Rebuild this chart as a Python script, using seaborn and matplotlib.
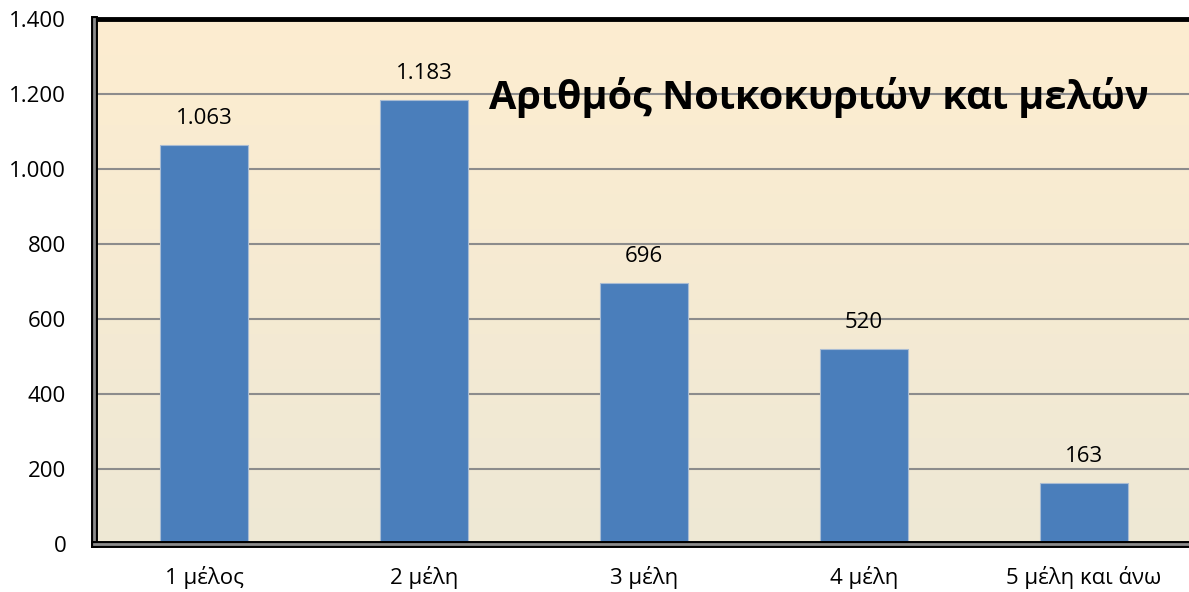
import numpy as np
import pandas as pd
import matplotlib
matplotlib.use("Agg")
import matplotlib.pyplot as plt
import matplotlib.patheffects as pe
from matplotlib.colors import LinearSegmentedColormap
import seaborn as sns

# Households by number of members
categories = ["1 μέλος", "2 μέλη", "3 μέλη", "4 μέλη", "5 μέλη και άνω"]
households = [1063, 1183, 696, 520, 163]
y_ticks = [0, 200, 400, 600, 800, 1000, 1200, 1400]
title = "Αριθμός Νοικοκυριών και μελών"

def thousands(v):
    return f"{v:,.0f}".replace(",", ".")

df = pd.DataFrame({"category": categories, "households": households})

sns.set_theme(style="white")
plt.rcParams["font.family"] = ["Open Sans", "DejaVu Sans"]

fig = plt.figure(figsize=(11.89, 5.92), dpi=100)
ax = fig.add_axes([94 / 1189, 48 / 592, 1100 / 1189, 525 / 592])

# Vertical gradient wall behind the bars
wall = LinearSegmentedColormap.from_list("wall", ["#EEE8D5", "#FDEDD0"])
grad = np.linspace(0, 1, 256).reshape(-1, 1)
ax.imshow(grad, cmap=wall, aspect="auto", origin="lower",
          extent=(-0.5, 4.5, 0, 1400), zorder=0)

sns.barplot(data=df, x="category", y="households", color="#4A7EBB",
            saturation=1, width=0.4, edgecolor="#A9BCD3", linewidth=0.8,
            ax=ax, zorder=3)

ax.set_xlim(-0.5, 4.5)
ax.set_ylim(0, 1400)
ax.set_yticks(y_ticks)
ax.set_yticklabels([thousands(v) for v in y_ticks])
ax.set_xlabel("")
ax.set_ylabel("")
ax.tick_params(axis="both", length=0, labelsize=16, colors="black")
ax.tick_params(axis="x", pad=16)
ax.tick_params(axis="y", pad=20)

for v in y_ticks[1:-1]:
    ax.axhline(v, color="#8C8C8C", lw=1.5, zorder=1)

for i, v in enumerate(households):
    ax.annotate(thousands(v), (i, v), xytext=(0, 19), textcoords="offset points",
                ha="center", va="center", fontsize=16, color="black", zorder=4)

ax.text(0.659, 0.851, title, transform=ax.transAxes, ha="center", va="center",
        fontsize=28.5, fontweight="bold", color="black", zorder=5)

for side in ["left", "bottom"]:
    sp = ax.spines[side]
    sp.set_visible(True)
    sp.set_color("#8C8C8C")
    sp.set_linewidth(2)
    sp.set_path_effects([pe.Stroke(linewidth=5, foreground="black"), pe.Normal()])
    sp.set_zorder(6)
ax.spines["top"].set_visible(True)
ax.spines["top"].set_color("black")
ax.spines["top"].set_linewidth(3.5)
ax.spines["right"].set_visible(False)

fig.savefig("out.png", dpi=100, facecolor="white")
